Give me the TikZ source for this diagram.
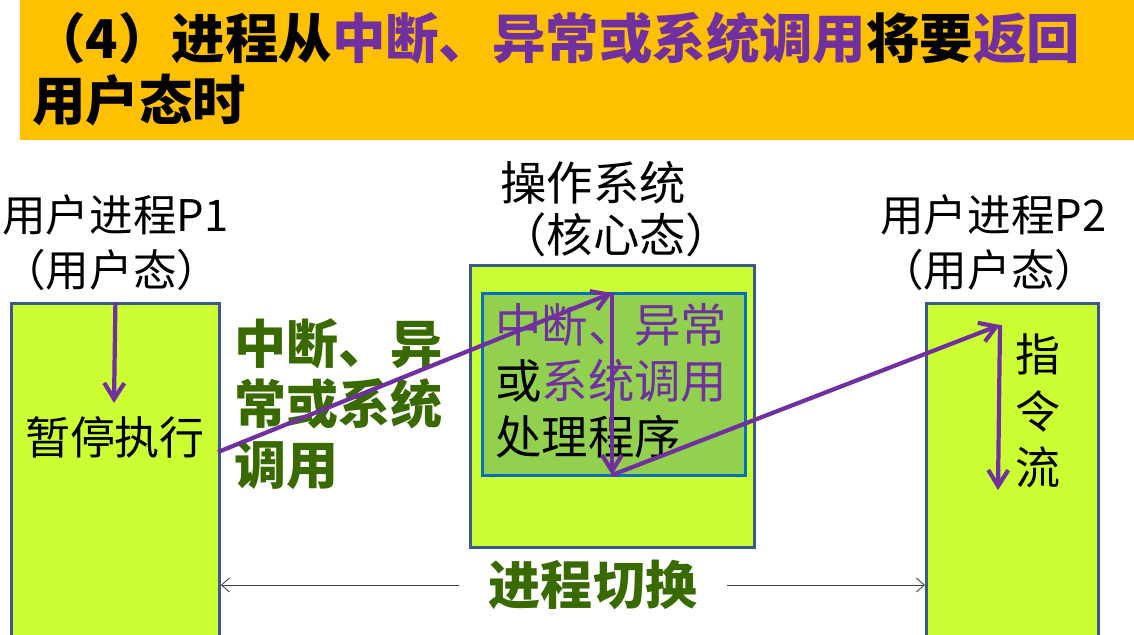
\documentclass[tikz,border=0pt]{standalone}
\usepackage{fontspec}
\setmainfont{Noto Sans CJK SC}
\usepackage{xcolor}
\usetikzlibrary{arrows.meta,positioning}
\definecolor{titorange}{HTML}{FFC000}
\definecolor{tpurple}{HTML}{7030A0}
\definecolor{tgreen}{HTML}{386A00}
\definecolor{boxlime}{HTML}{CCFF33}
\definecolor{boxline}{HTML}{3B5A8A}
\definecolor{kgreen}{HTML}{92D050}
\definecolor{kline}{HTML}{0070C0}
\tikzset{
  banner/.style={fill=titorange,draw=none,anchor=north west,inner sep=0pt,minimum width=27.85cm,minimum height=3.5cm},
  ubox/.style={draw=boxline,line width=2pt,fill=boxlime,anchor=north west,inner sep=0pt},
  kbox/.style={draw=kline,line width=2pt,fill=kgreen,anchor=north west,inner sep=0pt},
  ttl/.style={font=\fontsize{38}{44.5}\selectfont\bfseries,align=left,anchor=west,inner sep=0pt},
  lbl/.style={font=\fontsize{31}{39}\selectfont,align=left,anchor=west,inner sep=0pt},
  txt/.style={font=\fontsize{32}{40}\selectfont,align=left,inner sep=0pt},
  glbl/.style={font=\fontsize{37}{43}\selectfont\bfseries,text=tgreen,align=left,inner sep=0pt},
  parr/.style={-{Straight Barb[length=4mm,width=5mm,line width=3pt]},line width=3pt,draw=tpurple},
  tarr/.style={-{Straight Barb[length=2mm,width=3.5mm]},line width=0.6pt,draw=black!75},
}

\begin{document}
\begin{tikzpicture}[x=0.025cm,y=-0.025cm]
\useasboundingbox (0,0) rectangle (1134,635);
\clip (0,0) rectangle (1134,635);
% title
\node[banner] (head) at (20,0) {};
\node[ttl] (title) at (32,69) {（4）进程从\textcolor{tpurple}{中断、异常或系统调用}将要\textcolor{tpurple}{返回}\\用户态时};
% boxes
\node[ubox,minimum width=5.2cm,minimum height=8.5cm] (p1) at (10,302) {};
\node[ubox,minimum width=7.1cm,minimum height=7.05cm] (os) at (469,264) {};
\node[kbox,minimum width=6.575cm,minimum height=4.55cm] (hdl) at (481,292) {};
\node[ubox,minimum width=4.3cm,minimum height=8.5cm] (p2) at (925,302) {};
% labels
\node[lbl] (p1lbl) at (2,243) {用户进程P1\\（用户态）};
\node[lbl,font=\fontsize{33}{37}\selectfont] (oslbl) at (500,209) {操作系统\\（核心态）};
\node[lbl] (p2lbl) at (880,243) {用户进程P2\\（用户态）};
\node[txt] (pause) at (115,437) {暂停执行};
\node[txt,anchor=west,font=\fontsize{33}{40}\selectfont] (hdltxt) at (495,381) {\textcolor{tpurple}{中断、异常}\\或\textcolor{tpurple}{系统调用}\\处理程序};
\node[txt,align=center] (flow) at (1038,411) {指\\令\\流};
\node[glbl,anchor=west] (cause) at (234,404) {中断、异\\常或系统\\调用};
\node[glbl,inner xsep=0.75cm] (sw) at (593,585) {进程切换};
% control flow
\coordinate (stop) at (114,403);
\coordinate (out) at (218,452);
\coordinate (ktop) at (612,293);
\coordinate (kbot) at (612,475);
\coordinate (rtop) at (1000,325);
\coordinate (rbot) at (998,490);
\draw[parr] (p1.north) -- (stop);
\draw[parr] (out) -- (ktop);
\draw[parr] (ktop) -- (kbot);
\draw[parr] (kbot) -- (rtop);
\draw[parr] (rtop) -- (rbot);
\draw[tarr] (sw.west) -- (sw.west -| p1.east);
\draw[tarr] (sw.east) -- (sw.east -| p2.west);
\end{tikzpicture}
\end{document}
